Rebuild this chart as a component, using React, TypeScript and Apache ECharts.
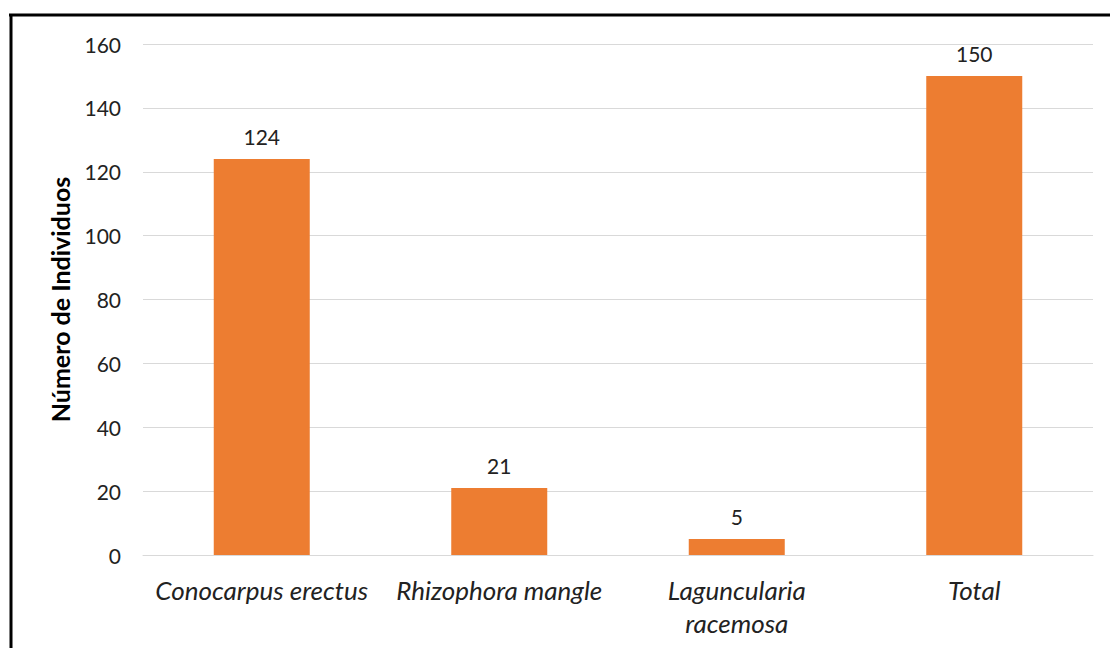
import React, { useEffect, useRef } from "react";
import * as echarts from "echarts";

const categories = ["Conocarpus erectus", "Rhizophora mangle", "Laguncularia racemosa", "Total"];
const values = [124, 21, 5, 150];
const yTicks = { min: 0, max: 160, interval: 20 };
const yTitle = "Número de Individuos";

const FONT = "Lato, 'Open Sans', sans-serif";

export default function App() {
  const ref = useRef<HTMLDivElement>(null);
  useEffect(() => {
    if (!ref.current) return;
    const chart = echarts.init(ref.current, null, { renderer: "svg" });
    chart.setOption({
      animation: false,
      backgroundColor: "#ffffff",
      textStyle: { fontFamily: FONT },
      grid: { left: 143, right: 17, top: 44, bottom: 93, containLabel: false },
      graphic: [
        { type: "line", shape: { x1: 9, y1: 15, x2: 1110, y2: 15 }, style: { stroke: "#000", lineWidth: 3 } },
        { type: "line", shape: { x1: 11, y1: 14, x2: 11, y2: 648 }, style: { stroke: "#000", lineWidth: 3 } },
      ],
      xAxis: {
        type: "category",
        data: categories,
        axisTick: { show: false },
        axisLine: { show: true, lineStyle: { color: "#d9d9d9", width: 1 } },
        axisLabel: {
          interval: 0,
          margin: 18,
          fontSize: 26,
          fontStyle: "italic",
          color: "#222",
          lineHeight: 33,
          fontFamily: FONT,
          formatter: (v: string) => (v === "Laguncularia racemosa" ? "Laguncularia\nracemosa" : v),
        },
      },
      yAxis: {
        type: "value",
        min: yTicks.min,
        max: yTicks.max,
        interval: yTicks.interval,
        name: yTitle,
        nameLocation: "middle",
        nameGap: 71,
        nameTextStyle: { fontSize: 25, fontWeight: "bold", color: "#000", fontFamily: FONT },
        axisLine: { show: false },
        axisTick: { show: false },
        axisLabel: { margin: 22, fontSize: 21, color: "#222", fontFamily: FONT },
        splitLine: { lineStyle: { color: "#d9d9d9", width: 1 } },
      },
      series: [
        {
          type: "bar",
          data: values,
          barWidth: 96,
          itemStyle: { color: "#ED7D31" },
          label: {
            show: true,
            position: "top",
            distance: 12,
            fontSize: 21,
            color: "#222",
            fontFamily: FONT,
          },
        },
      ],
    });
    return () => chart.dispose();
  }, []);
  return (
    <div
      ref={ref}
      style={{ position: "fixed", left: 0, top: 0, width: 1110, height: 648, background: "#fff" }}
    />
  );
}
